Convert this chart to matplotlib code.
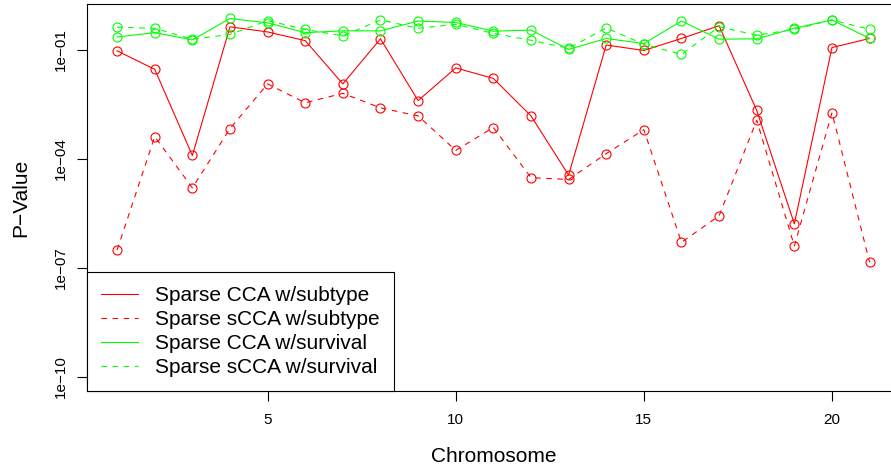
import numpy as np
import matplotlib
matplotlib.use("Agg")
import matplotlib.pyplot as plt

plt.rcParams["font.family"] = ["Liberation Sans", "DejaVu Sans"]

chromosome = list(range(1, 22))

# log10 p-values
cca_subtype = [-1.03, -1.54, -3.91, -0.37, -0.51, -0.75, -1.94, -0.70, -2.40, -1.50, -1.79,
               -2.82, -4.45, -0.87, -1.02, -0.69, -0.34, -2.67, -5.79, -0.94, -0.69]
scca_subtype = [-6.51, -3.39, -4.80, -3.17, -1.94, -2.46, -2.20, -2.60, -2.82, -3.77, -3.14,
                -4.52, -4.57, -3.86, -3.20, -6.30, -5.57, -2.94, -6.40, -2.73, -6.85]
cca_survival = [-0.65, -0.53, -0.73, -0.14, -0.26, -0.53, -0.48, -0.48, -0.21, -0.25, -0.49,
                -0.46, -0.99, -0.69, -0.83, -0.21, -0.71, -0.70, -0.41, -0.18, -0.69]
scca_survival = [-0.38, -0.41, -0.71, -0.58, -0.20, -0.44, -0.62, -0.18, -0.41, -0.30, -0.55,
                 -0.74, -0.96, -0.40, -0.85, -1.13, -0.37, -0.60, -0.44, -0.18, -0.44]

series = [
    ("Sparse CCA w/subtype", cca_subtype, "#FF0000", "-"),
    ("Sparse sCCA w/subtype", scca_subtype, "#FF0000", (0, (5, 5))),
    ("Sparse CCA w/survival", cca_survival, "#00FF00", "-"),
    ("Sparse sCCA w/survival", scca_survival, "#00FF00", (0, (5, 5))),
]

ytick_exp = [-1, -4, -7, -10]
xticks = [5, 10, 15, 20]

W, H = 891, 469
fig = plt.figure(figsize=(W / 100, H / 100), dpi=100)
left, right, top, bottom = 87, 899.7, 4.3, 391
ax = fig.add_axes([left / W, 1 - bottom / H, (right - left) / W, (bottom - top) / H])

for label, vals, col, ls in series:
    ax.plot(chromosome, 10.0 ** np.array(vals), color=col, ls=ls, lw=0.8,
            marker="o", ms=6.5, mfc="none", mec=col, mew=0.8, label=label)

ax.set_yscale("log")
ax.set_xlim(0.2, 21.8)
ax.set_ylim(10 ** -10.39, 10 ** 0.25)
ax.set_xticks(xticks)
ax.set_xticklabels([str(t) for t in xticks])
ax.set_yticks([10.0 ** e for e in ytick_exp])
ax.set_yticklabels(["1e\u2212%02d" % (-e) for e in ytick_exp], rotation=90, va="center")
ax.minorticks_off()
ax.tick_params(axis="both", length=7, width=0.8, labelsize=11)
ax.tick_params(axis="x", pad=9)
ax.tick_params(axis="y", pad=7)
for s in ax.spines.values():
    s.set_linewidth(0.8)
    s.set_color("black")

ax.set_xlabel("Chromosome", fontsize=15, labelpad=14)
ax.set_ylabel("P\u2212Value", fontsize=15, labelpad=17)

leg = ax.legend(loc="lower left", borderaxespad=0, fancybox=False, edgecolor="black",
                fontsize=15.0, handlelength=1.75, handletextpad=0.85, labelspacing=0.24,
                borderpad=0.68, framealpha=1)
leg.get_frame().set_linewidth(0.8)
for h in leg.legend_handles:
    h.set_marker("")

fig.savefig("out.png", dpi=100)
